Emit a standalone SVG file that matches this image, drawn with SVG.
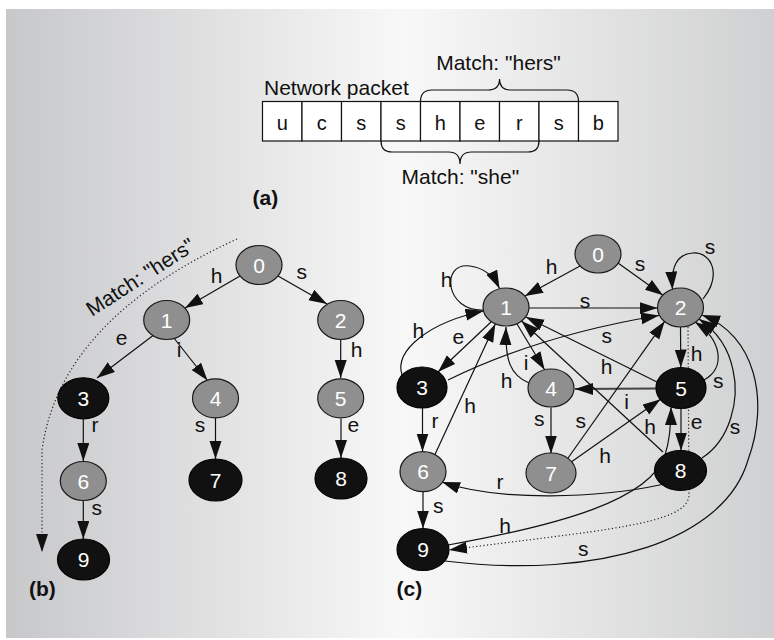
<svg xmlns="http://www.w3.org/2000/svg" width="774" height="640" viewBox="0 0 774 640">
<style>
text{font-family:"Liberation Sans",Arial,Helvetica,sans-serif;fill:#111}
.lbl{font-size:21px;text-anchor:middle}
.big{font-size:21px}
.bold{font-size:21px;font-weight:bold}
.cell{fill:#fff;stroke:#111;stroke-width:1.2}
.pk{font-size:20px;text-anchor:middle}
.brace{fill:none;stroke:#111;stroke-width:1.2}
.gray ellipse{fill:#8f8f8f;stroke:#1a1a1a;stroke-width:1.2}
.black ellipse{fill:#111;stroke:#000;stroke-width:1.2}
.gray text,.black text{fill:#fff;font-size:21px;text-anchor:middle}
.e{fill:none;stroke:#111;stroke-width:1.2;marker-end:url(#ah)}
.eg{fill:none;stroke:#444;stroke-width:1.8;marker-end:url(#ah)}
.dot{fill:none;stroke:#222;stroke-width:1.2;stroke-dasharray:1.2 2.4;marker-end:url(#ah)}
</style>
<defs>
<linearGradient id="bg" x1="0" y1="0" x2="1" y2="0">
<stop offset="0" stop-color="#c7c8ca"/>
<stop offset="0.52" stop-color="#f8f8f8"/>
<stop offset="1" stop-color="#cfd0d1"/>
</linearGradient>
<marker id="ah" markerUnits="userSpaceOnUse" markerWidth="19" markerHeight="13" refX="18" refY="6" orient="auto">
<path d="M0,0 L18,6 L0,12 z" fill="#111"/>
</marker>
</defs>
<rect x="0" y="0" width="774" height="640" fill="#fff"/>
<rect x="6" y="9" width="768" height="629" fill="url(#bg)"/>

<g id="packet">
<rect class="cell" x="262.5" y="101.5" width="39.5" height="39.5"/>
<rect class="cell" x="302" y="101.5" width="39.5" height="39.5"/>
<rect class="cell" x="341.5" y="101.5" width="39.5" height="39.5"/>
<rect class="cell" x="381" y="101.5" width="39.5" height="39.5"/>
<rect class="cell" x="420.5" y="101.5" width="39.5" height="39.5"/>
<rect class="cell" x="460" y="101.5" width="39.5" height="39.5"/>
<rect class="cell" x="499.5" y="101.5" width="39.5" height="39.5"/>
<rect class="cell" x="539" y="101.5" width="39.5" height="39.5"/>
<rect class="cell" x="578.5" y="101.5" width="39.5" height="39.5"/>
<text class="pk" x="282.25" y="129.5">u</text>
<text class="pk" x="321.75" y="129.5">c</text>
<text class="pk" x="361.25" y="129.5">s</text>
<text class="pk" x="400.75" y="129.5">s</text>
<text class="pk" x="440.25" y="129.5">h</text>
<text class="pk" x="479.75" y="129.5">e</text>
<text class="pk" x="519.25" y="129.5">r</text>
<text class="pk" x="558.75" y="129.5">s</text>
<text class="pk" x="598.25" y="129.5">b</text>
<path class="brace" d="M420.5,101.5 Q420.5,90 432,90 L488,90 Q499.5,90 499.5,79 Q499.5,90 511,90 L567,90 Q578.5,90 578.5,101.5"/>
<path class="brace" d="M381,141 Q381,152 392,152 L448.5,152 Q460,152 460,164 Q460,152 471.5,152 L528,152 Q539,152 539,141"/>
<text class="big" x="264" y="95">Network packet</text>
<text class="big" x="498.5" y="69.5" text-anchor="middle">Match: "hers"</text>
<text class="big" x="460.3" y="184" text-anchor="middle">Match: "she"</text>
<text class="bold" x="252.5" y="205">(a)</text>
</g>

<g id="connectors-b">
<path class="e" d="M240,276 L185,308"/>
<path class="e" d="M278,276 L327,304"/>
<path class="e" d="M159,331 L97,378"/>
<path class="e" d="M172.3,336 L207.5,380.5"/>
<path class="e" d="M340.7,339.5 L340.7,378"/>
<path class="e" d="M83.3,418.5 L83.3,461"/>
<path class="e" d="M215.5,417.5 L215.5,459"/>
<path class="e" d="M341,418.5 L341,458"/>
<path class="e" d="M83.3,500.5 L83.3,539"/>
<path class="dot" d="M237,239 Q60,320 42,450 L42,552"/>
</g>
<g id="labels-b">
<text class="lbl" x="216.7" y="283">h</text>
<text class="lbl" x="301.7" y="279">s</text>
<text class="lbl" x="121.7" y="345">e</text>
<text class="lbl" x="179" y="357">i</text>
<text class="lbl" x="356.7" y="357">h</text>
<text class="lbl" x="95" y="432">r</text>
<text class="lbl" x="200" y="432">s</text>
<text class="lbl" x="353.3" y="432">e</text>
<text class="lbl" x="96.7" y="515">s</text>
<text class="big" transform="translate(92,317) rotate(-33)">Match: "hers"</text>
<text class="bold" x="29" y="596">(b)</text>
</g>
<g id="b-n0" class="gray"><ellipse cx="259" cy="265" rx="23" ry="19.5"/><text x="259" y="272.5">0</text></g>
<g id="b-n1" class="gray"><ellipse cx="166.7" cy="320" rx="23" ry="19.5"/><text x="166.7" y="327.5">1</text></g>
<g id="b-n2" class="gray"><ellipse cx="340.7" cy="320" rx="23" ry="19.5"/><text x="340.7" y="327.5">2</text></g>
<g id="b-n3" class="black"><ellipse cx="83.3" cy="398.3" rx="25.5" ry="20.5"/><text x="83.3" y="405.8">3</text></g>
<g id="b-n4" class="gray"><ellipse cx="215.5" cy="398.3" rx="23" ry="19.5"/><text x="215.5" y="405.8">4</text></g>
<g id="b-n5" class="gray"><ellipse cx="340.7" cy="398.3" rx="23" ry="19.5"/><text x="340.7" y="405.8">5</text></g>
<g id="b-n6" class="gray"><ellipse cx="83.3" cy="481" rx="23" ry="19.5"/><text x="83.3" y="488.5">6</text></g>
<g id="b-n7" class="black"><ellipse cx="215.5" cy="480" rx="26.5" ry="21"/><text x="215.5" y="487.5">7</text></g>
<g id="b-n8" class="black"><ellipse cx="341" cy="478.5" rx="26" ry="20.5"/><text x="341" y="486">8</text></g>
<g id="b-n9" class="black"><ellipse cx="83.5" cy="559.5" rx="26" ry="20.5"/><text x="83.5" y="567">9</text></g>

<g id="connectors-c">
<path class="e" d="M580,266 L525,296"/>
<path class="e" d="M618,263 L663,295.3"/>
<path class="e" d="M484,310 C445,312 440,262 470,266 C485,268 494,277 499.5,288.5"/>
<path class="e" d="M529,308 L657.5,308"/>
<path class="e" d="M491,322 L438,372"/>
<path class="e" d="M517,324 L544.6,369.8"/>
<path class="e" d="M703,299 C722,275 712,252 693,253 C676,254 671,268 672.5,289.5"/>
<path class="e" d="M680.5,327 L680.8,367.5"/>
<path class="e" d="M402,375 C394,350 430,322 483.5,311"/>
<path class="e" d="M448,380 Q540,335 659,315.5"/>
<path class="e" d="M422.5,408 L422.5,451.5"/>
<path class="e" d="M529,383 C510,375 505,360 506,327"/>
<path class="e" d="M551,407.5 L551,453.5"/>
<path class="e" d="M657,382 L526,317"/>
<path class="eg" d="M656,388.5 L575,389"/>
<path class="e" d="M704,380 C726,368 722,340 695,322"/>
<path class="e" d="M681,408.5 L681,450.5"/>
<path class="e" d="M434.5,455.5 L495.3,324"/>
<path class="e" d="M423,491.5 L423,528.5"/>
<path class="e" d="M567,459.5 L664.7,321.3"/>
<path class="e" d="M570.5,462.5 L660.5,399.3"/>
<path class="e" d="M663,452 L521.5,321"/>
<path class="e" d="M702,458 C730,440 740,400 733,370 C728,345 715,330 699,319"/>
<path class="e" d="M662,484.5 C600,498 500,502 442,482"/>
<path class="e" d="M448,545 C560,525 650,500 665,455 C670,440 671,420 671,407"/>
<path class="e" d="M445,561 C600,580 725,540 748,460 C770,400 755,335 702,315"/>
<path class="dot" d="M688,327 L689,495 C688,525 600,530 449,550"/>
</g>
<g id="labels-c">
<text class="lbl" x="551.7" y="274">h</text>
<text class="lbl" x="640" y="270.5">s</text>
<text class="lbl" x="710" y="254">s</text>
<text class="lbl" x="446.7" y="286.5">h</text>
<text class="lbl" x="585" y="307.5">s</text>
<text class="lbl" x="418.3" y="337.5">h</text>
<text class="lbl" x="458.3" y="344">e</text>
<text class="lbl" x="606.7" y="343">s</text>
<text class="lbl" x="696.7" y="360.5">h</text>
<text class="lbl" x="526" y="370">i</text>
<text class="lbl" x="606.7" y="374">h</text>
<text class="lbl" x="506.7" y="387.5">h</text>
<text class="lbl" x="718.3" y="387.5">s</text>
<text class="lbl" x="470" y="412.5">h</text>
<text class="lbl" x="626.7" y="409">i</text>
<text class="lbl" x="435" y="427.5">r</text>
<text class="lbl" x="539.3" y="425.5">s</text>
<text class="lbl" x="580.7" y="427.5">s</text>
<text class="lbl" x="650" y="434">h</text>
<text class="lbl" x="696.7" y="429">e</text>
<text class="lbl" x="735" y="434">s</text>
<text class="lbl" x="605" y="462.5">h</text>
<text class="lbl" x="500" y="489">r</text>
<text class="lbl" x="438.3" y="512.5">s</text>
<text class="lbl" x="505" y="532.5">h</text>
<text class="lbl" x="583.3" y="555.5">s</text>
<text class="bold" x="396.5" y="596">(c)</text>
</g>
<g id="c-n0" class="gray"><ellipse cx="598" cy="254" rx="23" ry="19"/><text x="598" y="261.5">0</text></g>
<g id="c-n1" class="gray"><ellipse cx="506" cy="307" rx="23" ry="19"/><text x="506" y="314.5">1</text></g>
<g id="c-n2" class="gray"><ellipse cx="680.5" cy="307.5" rx="23" ry="19.5"/><text x="680.5" y="315">2</text></g>
<g id="c-n3" class="black"><ellipse cx="422" cy="387.5" rx="25" ry="20.5"/><text x="422" y="395">3</text></g>
<g id="c-n4" class="gray"><ellipse cx="551" cy="388" rx="23" ry="19"/><text x="551" y="395.5">4</text></g>
<g id="c-n5" class="black"><ellipse cx="681" cy="388" rx="25" ry="20.5"/><text x="681" y="395.5">5</text></g>
<g id="c-n6" class="gray"><ellipse cx="423" cy="471.7" rx="23" ry="20"/><text x="423" y="479.2">6</text></g>
<g id="c-n7" class="gray"><ellipse cx="551" cy="473" rx="25" ry="20"/><text x="551" y="480.5">7</text></g>
<g id="c-n8" class="black"><ellipse cx="680.5" cy="470.5" rx="26" ry="20"/><text x="680.5" y="478">8</text></g>
<g id="c-n9" class="black"><ellipse cx="423" cy="549.5" rx="26" ry="21"/><text x="423" y="557">9</text></g>
</svg>
